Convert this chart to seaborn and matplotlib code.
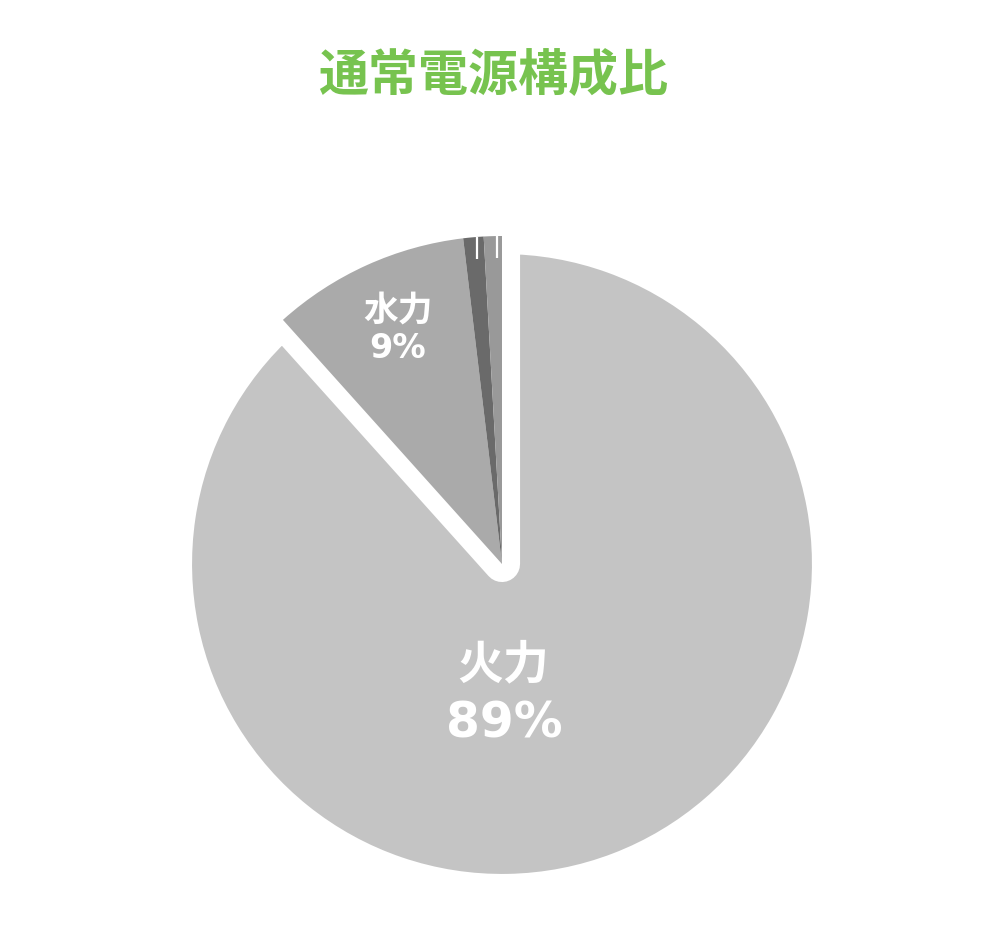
import numpy as np
import matplotlib.pyplot as plt
import seaborn as sns

sns.set_theme(style="white")
plt.rcParams['font.family'] = ['Noto Sans CJK JP', 'DejaVu Sans']

# Data
sources = ["火力", "水力", "その他1", "その他2"]
shares = [88.36, 9.75, 1.0, 0.89]
colors = ["#c4c4c4", "#aaaaaa", "#6a6a6a", "#999999"]
pct_labels = ["89%", "9%"]

W, H = 1001, 951
fig = plt.figure(figsize=(W / 100, H / 100), dpi=100)
ax = fig.add_axes([0, 0, 1, 1])

cx, cy, R = 502, H - 564, 328
wedges, _ = ax.pie(shares, colors=colors, startangle=90, counterclock=False,
                   center=(cx, cy), radius=R)

# main slice: thick white border makes the gap, drawn under the others
wedges[0].set_edgecolor("white")
wedges[0].set_linewidth(26)
wedges[0].set_joinstyle("round")
wedges[0].set_zorder(1)
for w in wedges[1:]:
    w.set_edgecolor("none")
    w.set_zorder(2)

# small leader ticks on the tiny slices
for w in wedges[2:]:
    mid = np.deg2rad((w.theta1 + w.theta2) / 2)
    x = cx + R * np.cos(mid) + 4
    y0 = cy + R * np.sin(mid)
    ax.plot([x, x], [y0, y0 - 22], color="white", lw=1.6, zorder=3,
            solid_capstyle="butt")

# labels
num_font = ["DejaVu Sans"]
ax.text(503, H - 665, sources[0], ha="center", va="center",
        color="white", fontsize=33, fontweight="bold", zorder=4)
ax.text(504, H - 723, pct_labels[0], ha="center", va="center", color="white",
        fontsize=35, fontweight="bold", family=num_font, zorder=4)
ax.text(398, H - 310, sources[1], ha="center", va="center",
        color="white", fontsize=25, fontweight="bold", zorder=4)
ax.text(398, H - 349, pct_labels[1], ha="center", va="center", color="white",
        fontsize=24, fontweight="bold", family=num_font, zorder=4)

ax.text(493, H - 77, "通常電源構成比", ha="center", va="center",
        color="#77c34f", fontsize=36, fontweight="bold")

ax.set_xlim(0, W)
ax.set_ylim(0, H)
ax.set_aspect("equal")
ax.axis("off")

fig.savefig("out.png", dpi=100, facecolor="white")
